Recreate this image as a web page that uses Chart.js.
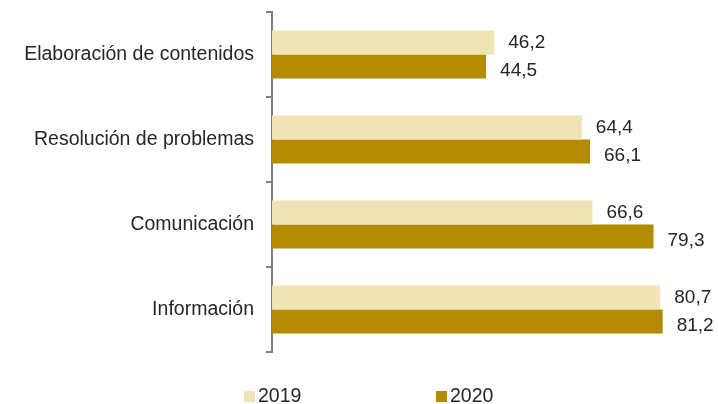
<!DOCTYPE html>
<html>
<head>
<meta charset="utf-8">
<script src="https://cdn.jsdelivr.net/npm/chart.js@4"></script>
<style>
  html,body{margin:0;padding:0;background:#fff;}
  #wrap{width:718px;height:404px;position:relative;}
</style>
</head>
<body>
<div id="wrap"><canvas id="grafico"></canvas></div>
<script>
const categorias = ["Elaboración de contenidos","Resolución de problemas","Comunicación","Información"];
const serie2019 = [46.2, 64.4, 66.6, 80.7];
const serie2020 = [44.5, 66.1, 79.3, 81.2];
const etiquetasSeries = ["2019","2020"];

const colores = ["#F0E3B4","#B38A00"];
const fuente = "'Liberation Sans', Arial, sans-serif";
const colorTexto = "#262626";

// etiquetas de valor a la derecha de cada barra
const valoresPlugin = {
  id:'valores',
  afterDatasetsDraw(chart){
    const ctx = chart.ctx;
    const desplY = [0, 4];
    ctx.save();
    ctx.font = "19px " + fuente;
    ctx.fillStyle = colorTexto;
    ctx.textBaseline = "middle";
    ctx.textAlign = "left";
    chart.data.datasets.forEach((ds,i)=>{
      chart.getDatasetMeta(i).data.forEach((bar,j)=>{
        ctx.fillText(ds.data[j].toFixed(1).replace('.',','), bar.x + 14, bar.y + desplY[i]);
      });
    });
    ctx.restore();
  }
};

// leyenda abajo, con los items bien separados como en el original
const leyendaPlugin = {
  id:'leyenda',
  afterDraw(chart){
    const ctx = chart.ctx;
    const xs = [244, 436];
    const yCaja = 391, lado = 11;
    ctx.save();
    ctx.font = "19.5px " + fuente;
    ctx.textBaseline = "alphabetic";
    ctx.textAlign = "left";
    chart.data.datasets.forEach((ds,i)=>{
      ctx.fillStyle = ds.backgroundColor;
      ctx.fillRect(xs[i], yCaja, lado, lado);
      ctx.fillStyle = colorTexto;
      ctx.fillText(ds.label, xs[i] + lado + 3, yCaja + lado);
    });
    ctx.restore();
  }
};

new Chart(document.getElementById('grafico'),{
  type:'bar',
  data:{
    labels: categorias,
    datasets:[
      {label: etiquetasSeries[0], data: serie2019, backgroundColor: colores[0]},
      {label: etiquetasSeries[1], data: serie2020, backgroundColor: colores[1]}
    ]
  },
  options:{
    indexAxis:'y',
    responsive:true,
    maintainAspectRatio:false,
    animation:false,
    layout:{padding:{top:12,right:13,left:0,bottom:52}},
    datasets:{bar:{categoryPercentage:0.565, barPercentage:1}},
    plugins:{
      tooltip:{enabled:false},
      legend:{display:false}
    },
    scales:{
      x:{display:false, min:0, max:90},
      y:{
        afterFit(s){ s.width = 272; s.paddingTop = 0; s.paddingBottom = 0; },
        border:{display:true,color:"#808080",width:2},
        grid:{display:true, offset:true, drawOnChartArea:false, tickLength:6, color:"#808080", lineWidth:2},
        ticks:{font:{family:fuente,size:19.5},color:colorTexto,padding:12}
      }
    }
  },
  plugins:[valoresPlugin, leyendaPlugin]
});
</script>
</body>
</html>
